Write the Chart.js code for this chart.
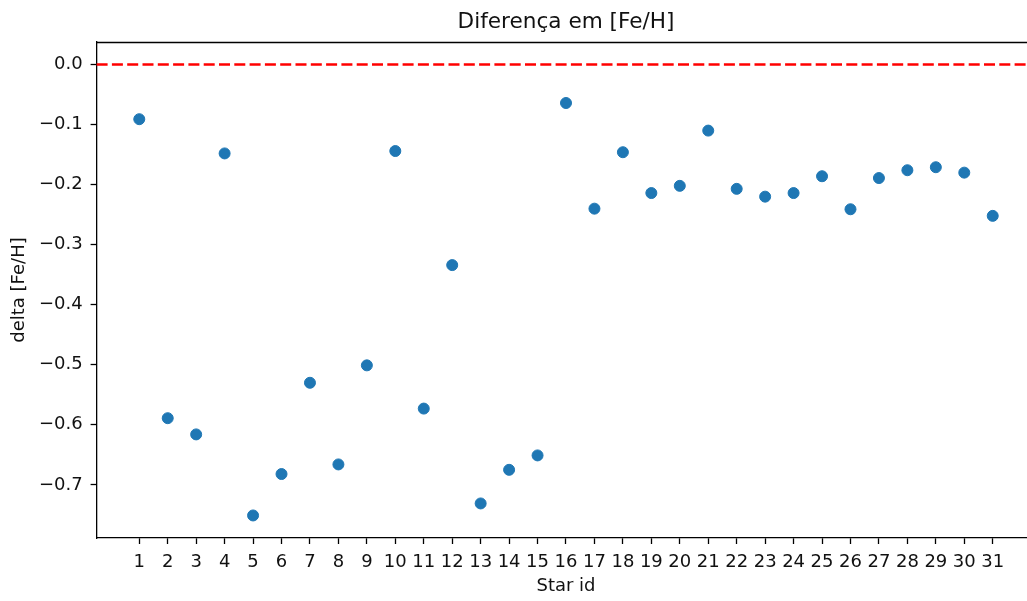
<!DOCTYPE html>
<html>
<head>
<meta charset="utf-8">
<title>Diferença em [Fe/H]</title>
<script src="https://cdn.jsdelivr.net/npm/chart.js@4/dist/chart.umd.min.js"></script>
<style>
  html, body { margin: 0; padding: 0; background: #fff; overflow: hidden; }
  #wrap { width: 1132px; height: 601px; }
</style>
</head>
<body>
<div id="wrap"><canvas id="feh" width="1132" height="601"></canvas></div>
<script>
// --- дані ---
const starIds = [1, 2, 3, 4, 5, 6, 7, 8, 9, 10, 11, 12, 13, 14, 15, 16,
                 17, 18, 19, 20, 21, 22, 23, 24, 25, 26, 27, 28, 29, 30, 31];
const deltaFeH = [-0.091, -0.589, -0.616, -0.148, -0.751, -0.682, -0.530, -0.666,
                  -0.501, -0.144, -0.573, -0.334, -0.731, -0.675, -0.651, -0.064,
                  -0.240, -0.146, -0.214, -0.202, -0.110, -0.207, -0.220, -0.214,
                  -0.186, -0.241, -0.189, -0.176, -0.171, -0.180, -0.252];
const yTickValues = [0.0, -0.1, -0.2, -0.3, -0.4, -0.5, -0.6, -0.7];
const xTickValues = starIds;
const referenceLevel = 0.0;

const FONT = 'DejaVu Sans';
const INK = '#111';

// межі осей з відступом 5%, як в matplotlib (axhline теж входить у межі по y)
const pad = (lo, hi) => { const m = (hi - lo) * 0.05; return [lo - m, hi + m]; };
const [xMin, xMax] = pad(Math.min(...starIds), Math.max(...starIds));
const [yMin, yMax] = pad(Math.min(...deltaFeH, referenceLevel), Math.max(...deltaFeH, referenceLevel));

const fmtTick = (v) => (v < -1e-9 ? '\u2212' : '') + Math.abs(v).toFixed(1);

// верхня рамка + червона пунктирна лінія нуля
const frameAndLevel = {
    id: 'frameAndLevel',
    afterDatasetsDraw(chart) {
        const { ctx, chartArea: a, scales: { y } } = chart;
        const py = y.getPixelForValue(referenceLevel);
        ctx.save();
        ctx.strokeStyle = '#ff0000';
        ctx.lineWidth = 2.5;
        ctx.setLineDash([11, 4.3]);
        ctx.beginPath();
        ctx.moveTo(a.left, py);
        ctx.lineTo(a.right, py);
        ctx.stroke();
        ctx.restore();
    },
    afterDraw(chart) {
        const { ctx, chartArea: a } = chart;
        ctx.save();
        ctx.strokeStyle = '#000';
        ctx.lineWidth = 1.3;
        ctx.beginPath();
        ctx.moveTo(a.left, Math.round(a.top) + 0.5);
        ctx.lineTo(a.right, Math.round(a.top) + 0.5);
        ctx.stroke();
        ctx.restore();
    }
};

new Chart(document.getElementById('feh'), {
    type: 'scatter',
    data: {
        datasets: [{
            label: 'delta [Fe/H]',
            data: starIds.map((id, i) => ({ x: id, y: deltaFeH[i] })),
            backgroundColor: '#1f77b4',
            borderColor: '#1f77b4',
            borderWidth: 1,
            pointRadius: 5.5,
            pointHoverRadius: 5.5
        }]
    },
    options: {
        responsive: false,
        animation: false,
        devicePixelRatio: 1,
        layout: { padding: 0 },
        plugins: {
            legend: { display: false },
            tooltip: { enabled: false },
            title: {
                display: true,
                text: 'Diferença em [Fe/H]',
                color: INK,
                font: { family: FONT, size: 21.6, weight: 'normal', lineHeight: 1.2 },
                padding: { top: 9.5, bottom: 6.6 }
            }
        },
        scales: {
            x: {
                type: 'linear',
                min: xMin,
                max: xMax,
                afterBuildTicks: (s) => { s.ticks = xTickValues.map(value => ({ value })); },
                afterFit: (s) => { s.height = 63; },
                ticks: {
                    autoSkip: false, maxRotation: 0, minRotation: 0,
                    color: INK, padding: 8,
                    font: { family: FONT, size: 18 },
                    callback: (v) => String(v)
                },
                grid: { display: true, drawOnChartArea: false, drawTicks: true,
                        tickLength: 6, tickWidth: 1.3, tickColor: '#000' },
                border: { display: true, color: '#000', width: 1.3 },
                title: {
                    display: true, text: 'Star id', color: INK,
                    font: { family: FONT, size: 18, lineHeight: 1.2 },
                    padding: { top: 0, bottom: 3.6 }
                }
            },
            y: {
                type: 'linear',
                min: yMin,
                max: yMax,
                afterBuildTicks: (s) => { s.ticks = yTickValues.map(value => ({ value })); },
                afterFit: (s) => { s.width = 96.6; },
                ticks: {
                    color: INK, padding: 8,
                    font: { family: FONT, size: 18 },
                    callback: fmtTick
                },
                grid: { display: true, drawOnChartArea: false, drawTicks: true,
                        tickLength: 6, tickWidth: 1.3, tickColor: '#000' },
                border: { display: true, color: '#000', width: 1.3 },
                title: {
                    display: true, text: 'delta [Fe/H]', color: INK,
                    font: { family: FONT, size: 18, lineHeight: 1.2 },
                    padding: { top: 8.2, bottom: 0 }
                }
            },
            // порожня права вісь: лише резервує місце, щоб заголовок стояв по центру осей
            yRight: {
                type: 'linear',
                position: 'right',
                display: true,
                afterFit: (s) => { s.width = 96.6; },
                ticks: { display: false },
                grid: { display: false },
                border: { display: false }
            }
        }
    },
    plugins: [frameAndLevel]
});
</script>
</body>
</html>
